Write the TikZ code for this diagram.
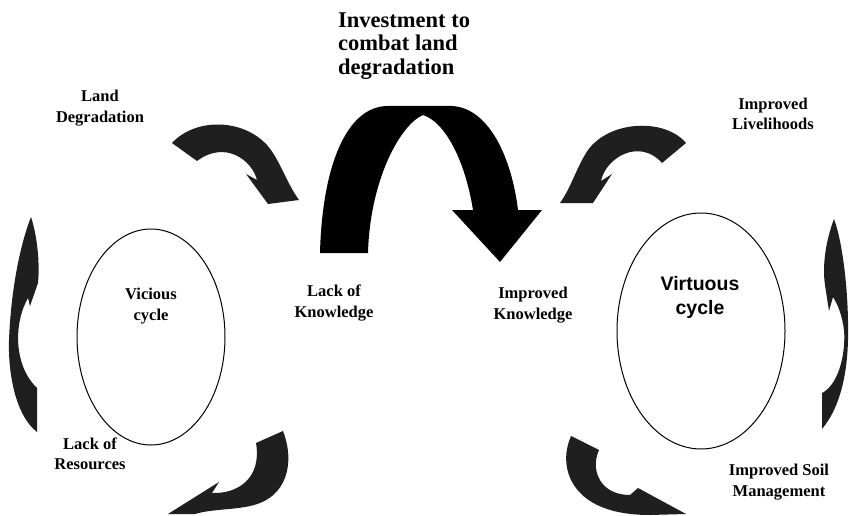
\documentclass[tikz,border=0pt]{standalone}
\usepackage{fontspec}
\setmainfont{Liberation Serif}
\newfontfamily\arialfont{Liberation Sans}
\begin{document}
\begin{tikzpicture}[x=1pt,y=-1pt,
  lbl/.style={font=\fontsize{16.5}{20.5}\selectfont\bfseries, align=center, inner sep=0pt},
  arr/.style={fill=black!88},
  cyc/.style={draw, line width=1pt}]

\useasboundingbox (0,0) rectangle (849,516);

\draw[cyc] (151,337) ellipse [x radius=74, y radius=108];
\draw[cyc] (701,331) ellipse [x radius=84, y radius=118];

% big arrow
\fill[black] (320,253) .. controls (322,170) and (345,106) .. (388,106)
    -- (452,106) .. controls (490,108) and (512,160) .. (518,210)
    -- (542,210) -- (500,262) -- (452,210) -- (473,210)
    .. controls (465,160) and (445,122) .. (423,115)
    .. controls (400,125) and (370,180) .. (368,253) -- cycle;

% small arrows
\fill[arr] (172,143) .. controls (195,118) and (242,118) .. (267,145)
    .. controls (280,160) and (286,182) .. (299,200)
    -- (268,204) -- (246,174) -- (257,180)
    .. controls (252,160) and (225,140) .. (197,161) -- cycle;

\fill[arr] (686,143) .. controls (665,118) and (610,120) .. (588,150)
    .. controls (576,168) and (572,186) .. (560,203)
    -- (593,203) -- (612,174) -- (601,181)
    .. controls (606,157) and (640,138) .. (662,163) -- cycle;

\fill[arr] (256,443) -- (283,431) .. controls (295,462) and (288,498) .. (250,506)
    .. controls (232,510) and (212,509) .. (195,514)
    -- (168,514) -- (219,482) -- (212,493)
    .. controls (238,494) and (262,478) .. (256,443) -- cycle;

\fill[arr] (571,436) -- (599,450) .. controls (590,470) and (600,495) .. (630,495)
    -- (638,488) -- (686,514) -- (650,515)
    .. controls (615,515) and (584,506) .. (571,480)
    .. controls (564,465) and (565,450) .. (571,436) -- cycle;

\fill[arr] (31,217) .. controls (37,235) and (40,262) .. (38,283)
    -- (30,306) -- (28,298)
    .. controls (14,322) and (13,365) .. (37,388) -- (37,432)
    .. controls (15,415) and (8,372) .. (9,340)
    .. controls (11,290) and (20,245) .. (31,217) -- cycle;

\fill[arr] (834,219) .. controls (842,240) and (849,290) .. (848,340)
    .. controls (847,380) and (838,410) .. (822,429) -- (822,393)
    .. controls (838,385) and (846,355) .. (844,330)
    .. controls (842,315) and (838,305) .. (833,297)
    -- (829,311) -- (825,285)
    .. controls (822,265) and (826,240) .. (834,219) -- cycle;

% labels
\node[anchor=west, align=left, inner sep=0pt, font=\fontsize{22.5}{23.5}\selectfont\bfseries]
    (invest) at (338,46) {Investment to\\combat land\\degradation};
\node[lbl] (landdeg) at (100,108) {Land\\Degradation};
\node[lbl] (livelihoods) at (773,114) {Improved\\Livelihoods};
\node[lbl] (vicious) at (151,306) {Vicious\\cycle};
\node[lbl] (lackknow) at (334,303) {Lack of\\Knowledge};
\node[lbl] (impknow) at (533,305) {Improved\\Knowledge};
\node[inner sep=0pt, align=center, font=\arialfont\fontsize{19.5}{24}\selectfont\bfseries]
    (virtuous) at (700,297) {Virtuous\\cycle};
\node[lbl] (lackres) at (90,454) {Lack of\\Resources};
\node[lbl] (soil) at (779,482) {Improved Soil\\Management};

\end{tikzpicture}
\end{document}
